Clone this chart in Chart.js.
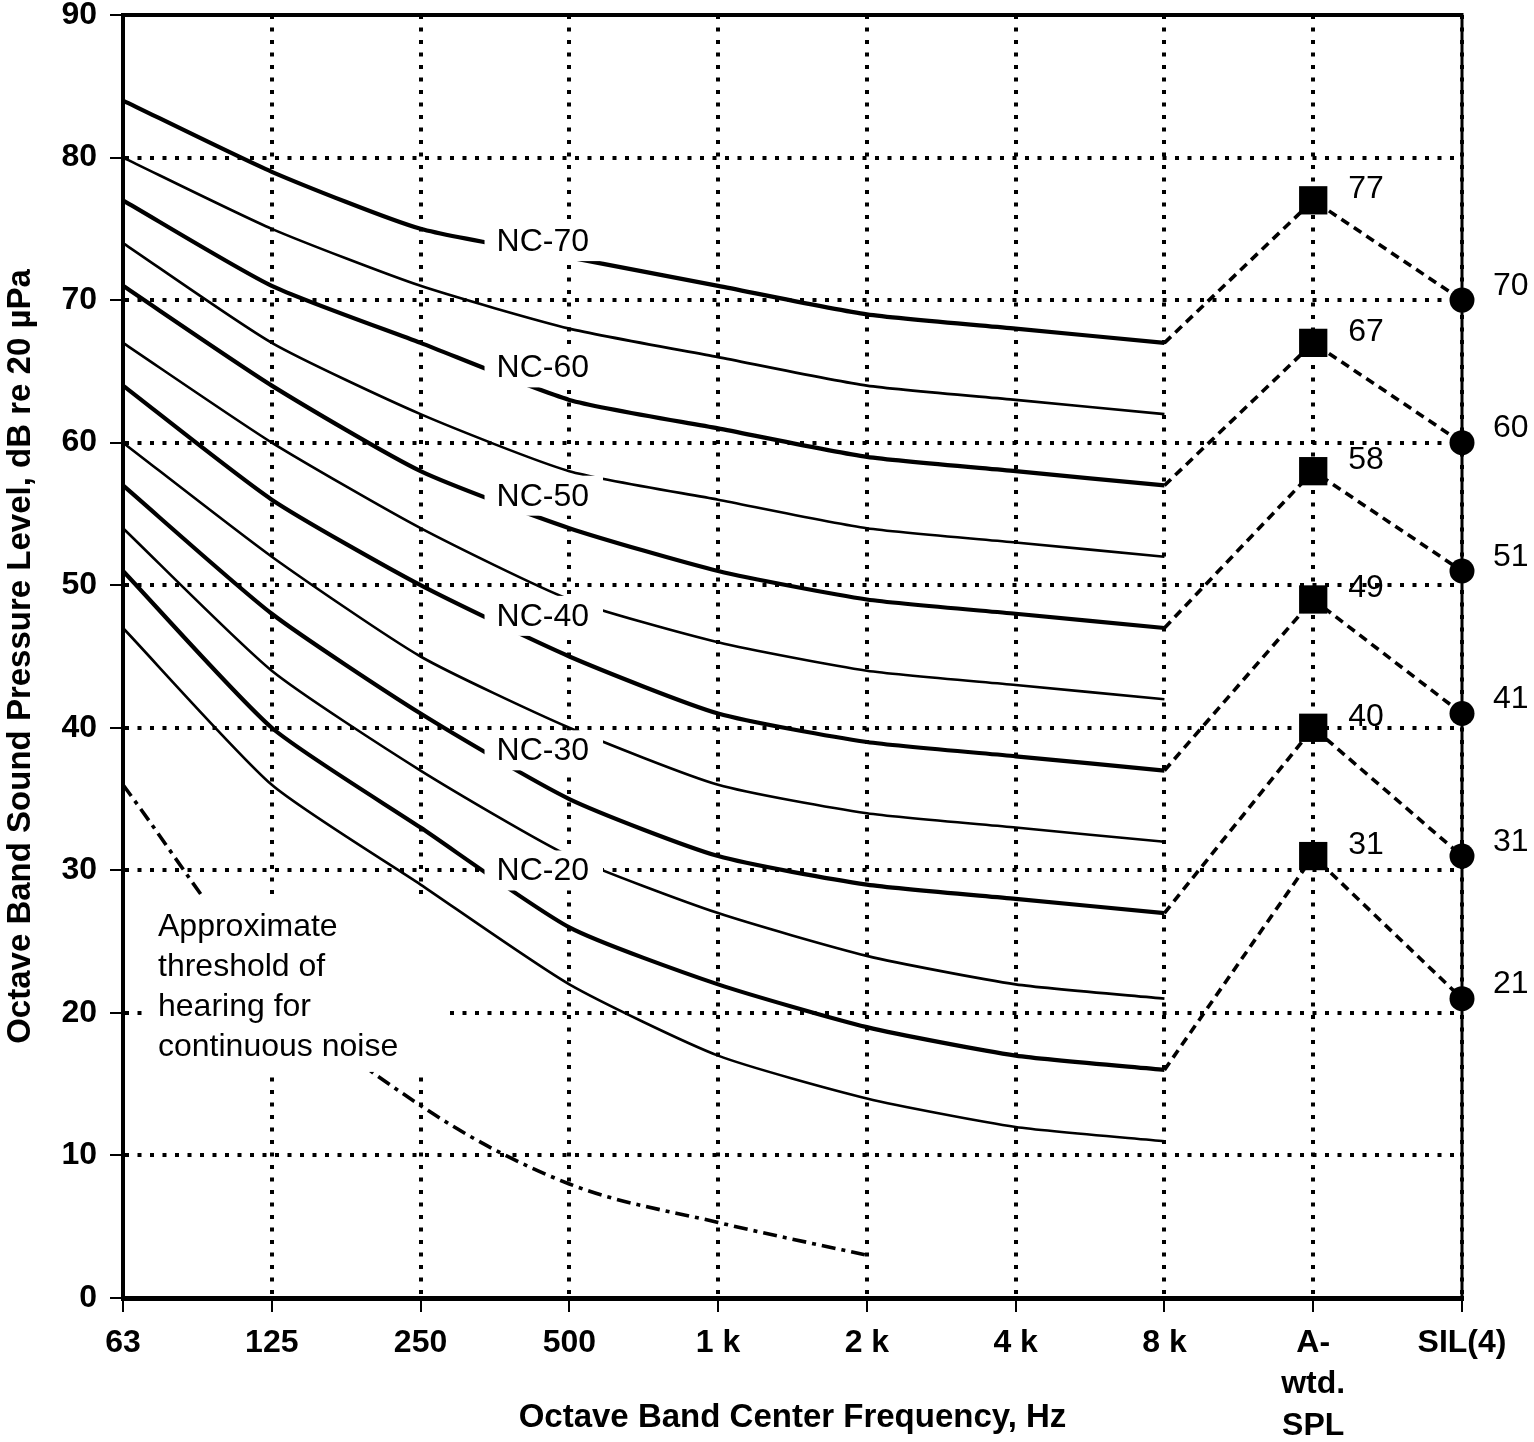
<!DOCTYPE html>
<html lang="en">
<head>
<meta charset="UTF-8">
<title>Noise Criterion curves</title>
<script src="https://cdn.jsdelivr.net/npm/chart.js"></script>
<style>
  html, body { margin: 0; padding: 0; background: #fff; }
  #wrap { width: 1534px; height: 1442px; position: relative; }
</style>
</head>
<body>
<div id="wrap"><canvas id="ncChart"></canvas></div>
<script>
// octave bands, then the two single-number ratings on the right
var bands = ['63', '125', '250', '500', '1 k', '2 k', '4 k', '8 k', ['A-', 'wtd.', 'SPL'], 'SIL(4)'];

// NC curves, dB per band 63 Hz .. 8 kHz
var nc70 = [84, 79, 75, 73, 71, 69, 68, 67];
var nc65 = [80, 75, 71, 68, 66, 64, 63, 62];
var nc60 = [77, 71, 67, 63, 61, 59, 58, 57];
var nc55 = [74, 67, 62, 58, 56, 54, 53, 52];
var nc50 = [71, 64, 58, 54, 51, 49, 48, 47];
var nc45 = [67, 60, 54, 49, 46, 44, 43, 42];
var nc40 = [64, 56, 50, 45, 41, 39, 38, 37];
var nc35 = [60, 52, 45, 40, 36, 34, 33, 32];
var nc30 = [57, 48, 41, 35, 31, 29, 28, 27];
var nc25 = [54, 44, 37, 31, 27, 24, 22, 21];
var nc20 = [51, 40, 33, 26, 22, 19, 17, 16];
var nc15 = [47, 36, 29, 22, 17, 14, 12, 11];

// hearing threshold, 63 Hz .. 2 kHz
var threshold = [36, 22, 13.5, 8, 5.3, 3];

// ratings of the labelled curves NC-70 .. NC-20
var aWeighted = [77, 67, 58, 49, 40, 31];
var sil = [70, 60, 51, 41, 31, 21];

var curveNames = ['NC-70', 'NC-65', 'NC-60', 'NC-55', 'NC-50', 'NC-45', 'NC-40', 'NC-35', 'NC-30', 'NC-25', 'NC-20', 'NC-15'];
var curveValues = [nc70, nc65, nc60, nc55, nc50, nc45, nc40, nc35, nc30, nc25, nc20, nc15];
var ratedCurves = ['NC-70', 'NC-60', 'NC-50', 'NC-40', 'NC-30', 'NC-20'];
var thresholdNote = ['Approximate', 'threshold of', 'hearing for', 'continuous noise'];

var FONT = "'Liberation Sans', Arial, Helvetica, sans-serif";
Chart.defaults.font.family = FONT;
Chart.defaults.color = '#000';

var datasets = [];
curveNames.forEach(function (name, i) {
  var heavy = ratedCurves.indexOf(name) >= 0;
  datasets.push({
    label: name,
    data: curveValues[i],
    borderColor: '#000',
    borderWidth: heavy ? 4.2 : 2.6,
    pointRadius: 0,
    tension: 0.2,
    fill: false
  });
});

// dashed links: 8 k end of curve -> A-weighted -> SIL
ratedCurves.forEach(function (name, k) {
  var values = curveValues[curveNames.indexOf(name)];
  var data = bands.map(function () { return null; });
  data[7] = values[7];
  data[8] = aWeighted[k];
  data[9] = sil[k];
  datasets.push({
    label: name + ' rating',
    data: data,
    borderColor: '#000',
    borderWidth: 3.6,
    borderDash: [9, 6],
    tension: 0,
    clip: false,
    pointStyle: function (c) { return c.dataIndex === 8 ? 'rect' : 'circle'; },
    pointRadius: function (c) { return c.dataIndex === 8 ? 20 : (c.dataIndex === 9 ? 12.5 : 0); },
    pointBackgroundColor: '#000',
    pointBorderWidth: 0
  });
});

// last in the list, so it is drawn first (under everything else)
datasets.push({
  label: 'threshold',
  data: threshold,
  borderColor: '#000',
  borderWidth: 3.6,
  borderDash: [14, 6, 4, 6],
  pointRadius: 0,
  cubicInterpolationMode: 'monotone',
  fill: false
});
var thresholdIndex = datasets.length - 1;

var annotate = {
  id: 'annotate',
  beforeDatasetsDraw: function (chart) {
    // top and right frame lines
    var a = chart.chartArea, ctx = chart.ctx;
    ctx.save();
    ctx.strokeStyle = '#000';
    ctx.lineWidth = 4;
    ctx.beginPath(); ctx.moveTo(a.left - 2, a.top); ctx.lineTo(a.right + 1.5, a.top); ctx.stroke();
    ctx.lineWidth = 3;
    ctx.beginPath(); ctx.moveTo(a.right, a.top); ctx.lineTo(a.right, a.bottom); ctx.stroke();
    ctx.restore();
  },
  afterDatasetDraw: function (chart, args) {
    if (args.index !== thresholdIndex) return;
    var xs = chart.scales.x, ys = chart.scales.y, ctx = chart.ctx;
    var left = xs.getPixelForValue(0) + 35, base = ys.getPixelForValue(25.4);
    ctx.save();
    ctx.fillStyle = '#fff';
    ctx.fillRect(left - 15, base - 41, 307, 177);
    ctx.fillStyle = '#000';
    ctx.font = '32px ' + FONT;
    ctx.textBaseline = 'alphabetic';
    thresholdNote.forEach(function (line, i) { ctx.fillText(line, left, base + i * 40); });
    ctx.restore();
  },
  afterDatasetsDraw: function (chart) {
    var xs = chart.scales.x, ys = chart.scales.y, ctx = chart.ctx;
    ctx.save();
    ctx.font = '32px ' + FONT;
    ctx.textBaseline = 'middle';
    ctx.textAlign = 'left';
    // curve names sit on the curves between 250 and 500 Hz
    var f = 0.43, x0 = xs.getPixelForValue(2 + f);
    ratedCurves.forEach(function (name) {
      var v = curveValues[curveNames.indexOf(name)];
      var y = ys.getPixelForValue(v[2] + (v[3] - v[2]) * f);
      var w = ctx.measureText(name).width;
      ctx.fillStyle = '#fff';
      ctx.fillRect(x0, y - 20, w + 26, 40);
      ctx.fillStyle = '#000';
      ctx.fillText(name, x0 + 12, y + 1);
    });
    aWeighted.forEach(function (v) {
      ctx.fillText(String(v), xs.getPixelForValue(8) + 35, ys.getPixelForValue(v) - 11);
    });
    sil.forEach(function (v) {
      ctx.fillText(String(v), xs.getPixelForValue(9) + 31, ys.getPixelForValue(v) - 14);
    });
    ctx.restore();
  }
};

var ctx = document.getElementById('ncChart').getContext('2d');
new Chart(ctx, {
  type: 'line',
  data: { labels: bands, datasets: datasets },
  plugins: [annotate],
  options: {
    responsive: true,
    maintainAspectRatio: false,
    animation: false,
    events: [],
    layout: { padding: { top: 15, right: 72, bottom: 0, left: 0 } },
    plugins: { legend: { display: false }, tooltip: { enabled: false } },
    scales: {
      x: {
        type: 'category',
        offset: false,
        grid: { color: '#000', lineWidth: 4, offset: false, drawTicks: true, tickLength: 14, tickWidth: 2, tickColor: '#000', tickBorderDash: [] },
        border: { display: true, color: '#000', width: 5, dash: [4, 8.5] },
        ticks: { autoSkip: false, maxRotation: 0, padding: 10, font: { size: 32, weight: 'bold', lineHeight: 1.3 } },
        title: { display: true, text: 'Octave Band Center Frequency, Hz', font: { size: 33, weight: 'bold' }, padding: { top: 0, bottom: 4 } },
        afterFit: function (s) { s.height = 144; s.paddingLeft = 0; s.paddingRight = 0; }
      },
      y: {
        min: 0,
        max: 90,
        grid: { color: '#000', lineWidth: 4, drawTicks: true, tickLength: 13, tickWidth: 2, tickColor: '#000', tickBorderDash: [] },
        border: { display: true, color: '#000', width: 4, dash: [4, 8.5] },
        ticks: { stepSize: 10, padding: 13, font: { size: 32, weight: 'bold' } },
        title: { display: true, text: 'Octave Band Sound Pressure Level, dB re 20 µPa', font: { size: 33, weight: 'bold' }, padding: { top: 1, bottom: 0 } },
        afterFit: function (s) { s.width = 123; s.paddingTop = 0; s.paddingBottom = 0; }
      }
    }
  }
});
</script>
</body>
</html>
